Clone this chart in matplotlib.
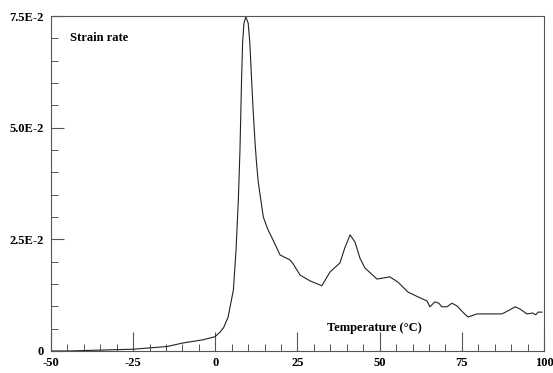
import numpy as np
import matplotlib
matplotlib.use("Agg")
import matplotlib.pyplot as plt
from matplotlib.ticker import MultipleLocator

# strain rate vs temperature
temp = [-50, -45, -40, -35, -30, -25, -19.9, -14.7, -9.8, -3.8, -0.1, 1.4, 2.5, 3.9,
        5.5, 6.3, 7.0, 7.5, 8.0, 8.3, 8.7, 9.3, 10.0, 10.5, 11.0, 11.5, 12.1, 12.6,
        13.1, 14.6, 16.0, 17.6, 19.7, 22.7, 23.6, 25.8, 28.8, 31.8, 32.4, 34.9,
        37.9, 39.4, 41.0, 42.5, 44.0, 45.5, 49.2, 53.1,
        55.6, 58.6, 62.3, 64.4, 65.3, 66.8, 68.0, 68.9, 70.5, 72.0, 73.5, 75.3,
        76.9, 79.6, 82.6, 87.2, 89.6, 91.2, 92.7, 94.8, 96.6, 97.5, 98.2, 99.4]
rate = [0.0, 0.0, 0.0001, 0.0002, 0.0003, 0.0004, 0.0007, 0.0010, 0.0018, 0.0025,
        0.0032, 0.0042, 0.0052, 0.0076, 0.0137, 0.0226, 0.0338, 0.0450, 0.0613,
        0.0690, 0.0734, 0.0748, 0.0734, 0.0690, 0.0613, 0.0540, 0.0465, 0.0415,
        0.0376, 0.0300, 0.0272, 0.0248, 0.0215, 0.0204, 0.0196, 0.0170, 0.0157,
        0.0148, 0.0146, 0.0177, 0.0197, 0.0231, 0.0260, 0.0244, 0.0208, 0.0186,
        0.0161, 0.0166, 0.0154, 0.0132, 0.0119, 0.0112, 0.0099, 0.0110, 0.0107,
        0.0099, 0.0099, 0.0107, 0.0101, 0.0087, 0.0076, 0.0083, 0.0083, 0.0083,
        0.0092, 0.0099, 0.0094, 0.0083, 0.0085, 0.0081, 0.0087, 0.0087]

xticks = [-50, -25, 0, 25, 50, 75, 100]
yticks = [0, 0.025, 0.05, 0.075]
ylabels = ["0", "2.5E-2", "5.0E-2", "7.5E-2"]

plt.rcParams['font.family'] = ['Liberation Serif', 'DejaVu Serif']
plt.rcParams['font.weight'] = 'bold'

fig = plt.figure(figsize=(5.53, 3.73), dpi=100)
ax = fig.add_axes([0.0922, 0.059, 0.8915, 0.898])

ax.plot(temp, rate, color='#222222', lw=0.8)

ax.set_xlim(-50, 100)
ax.set_ylim(0, 0.075)
ax.set_xticks(xticks)
ax.set_xticklabels([str(t) for t in xticks])
ax.set_yticks(yticks)
ax.set_yticklabels(ylabels)
ax.xaxis.set_minor_locator(MultipleLocator(5))
ax.yaxis.set_minor_locator(MultipleLocator(0.005))

ax.tick_params(axis='x', which='major', direction='in', length=14, width=0.8,
               color='#555555', labelsize=9, pad=4)
ax.tick_params(axis='x', which='minor', direction='in', length=5, width=0.7, color='#555555')
ax.tick_params(axis='y', which='major', direction='in', length=9, width=0.8,
               color='#555555', labelsize=9, pad=5)
ax.tick_params(axis='y', which='minor', direction='in', length=5, width=0.7, color='#555555')

for s in ax.spines.values():
    s.set_color('#555555')
    s.set_linewidth(0.8)

ax.text(0.039, 0.935, "Strain rate", transform=ax.transAxes, fontsize=9,
        fontweight='bold', va='center', ha='left')
ax.text(0.655, 0.07, "Temperature (°C)", transform=ax.transAxes, fontsize=9,
        fontweight='bold', va='center', ha='center')

fig.savefig("out.png", dpi=100)
